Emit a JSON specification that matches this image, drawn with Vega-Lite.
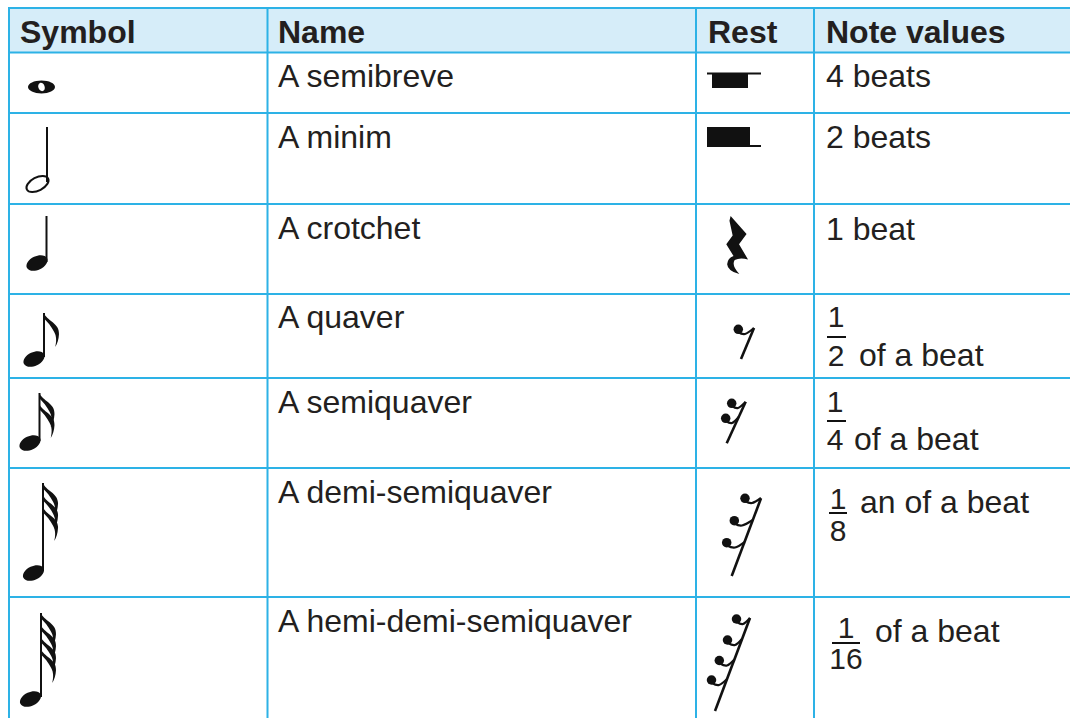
{
  "$schema": "https://vega.github.io/schema/vega-lite/v6.json",
  "width": 1070,
  "height": 718,
  "padding": 0,
  "autosize": {"type": "none"},
  "background": "white",
  "config": {"view": {"stroke": null}, "axis": {"disable": true}},
  "datasets": {
    "headerBg": [{"x": 9, "x2": 1070, "y": 8, "y2": 52.5}],
    "grid": [
      {"x": 8, "x2": 1070, "y": 8, "y2": 8},
      {"x": 8, "x2": 1070, "y": 52.5, "y2": 52.5},
      {"x": 8, "x2": 1070, "y": 113, "y2": 113},
      {"x": 8, "x2": 1070, "y": 204, "y2": 204},
      {"x": 8, "x2": 1070, "y": 294, "y2": 294},
      {"x": 8, "x2": 1070, "y": 378, "y2": 378},
      {"x": 8, "x2": 1070, "y": 468, "y2": 468},
      {"x": 8, "x2": 1070, "y": 597, "y2": 597},
      {"x": 9, "x2": 9, "y": 7, "y2": 718},
      {"x": 267.5, "x2": 267.5, "y": 7, "y2": 718},
      {"x": 696, "x2": 696, "y": 7, "y2": 718},
      {"x": 814, "x2": 814, "y": 7, "y2": 718}
    ],
    "headerText": [
      {"x": 20, "y": 43, "t": "Symbol"},
      {"x": 278, "y": 43, "t": "Name"},
      {"x": 708, "y": 43, "t": "Rest"},
      {"x": 826, "y": 43, "t": "Note values"}
    ],
    "bodyText": [
      {"x": 278, "y": 87, "t": "A semibreve"},
      {"x": 278, "y": 148, "t": "A minim"},
      {"x": 278, "y": 239, "t": "A crotchet"},
      {"x": 278, "y": 328, "t": "A quaver"},
      {"x": 278, "y": 413, "t": "A semiquaver"},
      {"x": 278, "y": 503, "t": "A demi-semiquaver"},
      {"x": 278, "y": 632, "t": "A hemi-demi-semiquaver"},
      {"x": 826, "y": 87, "t": "4 beats"},
      {"x": 826, "y": 148, "t": "2 beats"},
      {"x": 826, "y": 240, "t": "1 beat"},
      {"x": 859, "y": 366, "t": "of a beat"},
      {"x": 854, "y": 450, "t": "of a beat"},
      {"x": 860, "y": 513, "t": "an of a beat"},
      {"x": 875, "y": 642, "t": "of a beat"}
    ],
    "digits": [
      {"x": 836, "y": 327, "t": "1"},
      {"x": 836, "y": 366, "t": "2"},
      {"x": 835, "y": 412, "t": "1"},
      {"x": 835, "y": 450, "t": "4"},
      {"x": 838, "y": 509, "t": "1"},
      {"x": 838, "y": 541, "t": "8"},
      {"x": 846, "y": 638, "t": "1"},
      {"x": 846, "y": 669, "t": "16"}
    ],
    "thinStrokes": [
      {"x": 827, "x2": 846, "y": 337, "y2": 337},
      {"x": 827, "x2": 846, "y": 421, "y2": 421},
      {"x": 829, "x2": 847, "y": 513, "y2": 513},
      {"x": 832, "x2": 860, "y": 643, "y2": 643},
      {"x": 707, "x2": 761, "y": 73.5, "y2": 73.5},
      {"x": 707, "x2": 761, "y": 146, "y2": 146},
      {"x": 47, "x2": 47, "y": 127, "y2": 182},
      {"x": 46.5, "x2": 46.5, "y": 216, "y2": 262},
      {"x": 44, "x2": 44, "y": 313, "y2": 357},
      {"x": 39.5, "x2": 39.5, "y": 393, "y2": 441},
      {"x": 43, "x2": 43, "y": 483, "y2": 571},
      {"x": 41, "x2": 41, "y": 613, "y2": 697}
    ],
    "restStems": [
      {"x": 754, "x2": 741, "y": 328, "y2": 359},
      {"x": 745.7, "x2": 726.7, "y": 401.7, "y2": 443.3},
      {"x": 761, "x2": 731.7, "y": 498.3, "y2": 576},
      {"x": 750, "x2": 715, "y": 618, "y2": 711}
    ],
    "restBlocks": [
      {"x": 712, "x2": 748, "y": 73, "y2": 88},
      {"x": 707, "x2": 750, "y": 127, "y2": 146}
    ],
    "restDots": [
      {"x": 738.3, "y": 329.3},
      {"x": 731.7, "y": 403.3},
      {"x": 725.7, "y": 418.3},
      {"x": 745, "y": 498.3},
      {"x": 734.3, "y": 520.7},
      {"x": 726.7, "y": 542.7},
      {"x": 736.5, "y": 619},
      {"x": 727.5, "y": 640},
      {"x": 719.3, "y": 660.5},
      {"x": 711.5, "y": 680}
    ],
    "hooks": [
      {"g": "a1", "x": 738, "y": 332}, {"g": "a1", "x": 745, "y": 334}, {"g": "a1", "x": 754, "y": 328},
      {"g": "b1", "x": 732, "y": 406}, {"g": "b1", "x": 738, "y": 408}, {"g": "b1", "x": 745.5, "y": 402},
      {"g": "b2", "x": 726, "y": 421}, {"g": "b2", "x": 732, "y": 423}, {"g": "b2", "x": 738.7, "y": 417},
      {"g": "c1", "x": 745, "y": 501}, {"g": "c1", "x": 752, "y": 503}, {"g": "c1", "x": 761, "y": 498},
      {"g": "c2", "x": 734.5, "y": 523.5}, {"g": "c2", "x": 742, "y": 525.5}, {"g": "c2", "x": 752.8, "y": 520},
      {"g": "c3", "x": 727, "y": 545.5}, {"g": "c3", "x": 735, "y": 547.5}, {"g": "c3", "x": 744.5, "y": 542},
      {"g": "d1", "x": 737, "y": 622}, {"g": "d1", "x": 743, "y": 624}, {"g": "d1", "x": 750, "y": 618},
      {"g": "d2", "x": 728, "y": 643}, {"g": "d2", "x": 735, "y": 645}, {"g": "d2", "x": 742, "y": 639},
      {"g": "d3", "x": 720, "y": 663.5}, {"g": "d3", "x": 727, "y": 665.5}, {"g": "d3", "x": 734.4, "y": 659.5},
      {"g": "d4", "x": 712, "y": 683}, {"g": "d4", "x": 719, "y": 685}, {"g": "d4", "x": 727.1, "y": 679}
    ],
    "quarterRest": [{"x": 737, "y": 245}],
    "wholeNote": [{"x": 41.5, "y": 87}],
    "halfHead": [{"x": 37.5, "y": 184}],
    "filledHeads": [
      {"x": 37, "y": 263},
      {"x": 34, "y": 359},
      {"x": 30, "y": 443},
      {"x": 33.5, "y": 573},
      {"x": 30.5, "y": 699}
    ],
    "flags": [
      {"x": 51.5, "y": 330},
      {"x": 47, "y": 410},
      {"x": 47, "y": 421},
      {"x": 50.5, "y": 500},
      {"x": 50.5, "y": 512},
      {"x": 50.5, "y": 524},
      {"x": 48.5, "y": 630},
      {"x": 48.5, "y": 642},
      {"x": 48.5, "y": 654},
      {"x": 48.5, "y": 666}
    ]
  },
  "encoding": {
    "x": {"field": "x", "type": "quantitative", "scale": {"domain": [0, 1070], "nice": false, "zero": false}, "axis": null},
    "y": {"field": "y", "type": "quantitative", "scale": {"domain": [0, 718], "reverse": true, "nice": false, "zero": false}, "axis": null}
  },
  "layer": [
    {
      "data": {"name": "headerBg"},
      "mark": {"type": "rect", "color": "#d6edf9"},
      "encoding": {"x2": {"field": "x2"}, "y2": {"field": "y2"}}
    },
    {
      "data": {"name": "grid"},
      "mark": {"type": "rule", "color": "#2db2e6", "strokeWidth": 2},
      "encoding": {"x2": {"field": "x2"}, "y2": {"field": "y2"}}
    },
    {
      "data": {"name": "headerText"},
      "mark": {"type": "text", "align": "left", "baseline": "alphabetic", "font": "Liberation Sans", "fontWeight": "bold", "fontSize": 32, "color": "#231f20"},
      "encoding": {"text": {"field": "t"}}
    },
    {
      "data": {"name": "bodyText"},
      "mark": {"type": "text", "align": "left", "baseline": "alphabetic", "font": "Liberation Sans", "fontSize": 32, "color": "#231f20"},
      "encoding": {"text": {"field": "t"}}
    },
    {
      "data": {"name": "digits"},
      "mark": {"type": "text", "align": "center", "baseline": "alphabetic", "font": "Liberation Sans", "fontSize": 30, "color": "#231f20"},
      "encoding": {"text": {"field": "t"}}
    },
    {
      "data": {"name": "thinStrokes"},
      "mark": {"type": "rule", "color": "#111111", "strokeWidth": 2},
      "encoding": {"x2": {"field": "x2"}, "y2": {"field": "y2"}}
    },
    {
      "data": {"name": "restStems"},
      "mark": {"type": "rule", "color": "#111111", "strokeWidth": 2.6},
      "encoding": {"x2": {"field": "x2"}, "y2": {"field": "y2"}}
    },
    {
      "data": {"name": "restBlocks"},
      "mark": {"type": "rect", "color": "#111111"},
      "encoding": {"x2": {"field": "x2"}, "y2": {"field": "y2"}}
    },
    {
      "data": {"name": "hooks"},
      "mark": {"type": "line", "color": "#111111", "strokeWidth": 2.2, "interpolate": "natural"},
      "encoding": {"detail": {"field": "g", "type": "nominal"}}
    },
    {
      "data": {"name": "restDots"},
      "mark": {"type": "point", "shape": "circle", "filled": true, "color": "#111111", "opacity": 1, "size": 90, "strokeWidth": 0}
    },
    {
      "data": {"name": "quarterRest"},
      "mark": {"type": "point", "shape": "M-0.22,-1L0.33,-0.38L0.07,-0.03L0.38,0.5Q0.1,0.42,-0.08,0.52Q-0.2,0.7,0.08,1Q-0.32,0.9,-0.34,0.66Q-0.32,0.45,-0.12,0.38L-0.37,-0.03L-0.15,-0.33L-0.26,-0.84Z", "filled": true, "color": "#111111", "opacity": 1, "size": 3364, "strokeWidth": 0}
    },
    {
      "data": {"name": "wholeNote"},
      "mark": {"type": "point", "shape": "M-1,0C-1,-0.265,-0.552,-0.48,0,-0.48C0.552,-0.48,1,-0.265,1,0C1,0.265,0.552,0.48,0,0.48C-0.552,0.48,-1,0.265,-1,0Z", "filled": true, "color": "#111111", "opacity": 1, "size": 729, "strokeWidth": 0}
    },
    {
      "data": {"name": "wholeNote"},
      "mark": {"type": "point", "shape": "M-1,0C-1,-0.414,-0.552,-0.75,0,-0.75C0.552,-0.75,1,-0.414,1,0C1,0.414,0.552,0.75,0,0.75C-0.552,0.75,-1,0.414,-1,0Z", "filled": true, "color": "white", "opacity": 1, "size": 72, "angle": 70, "strokeWidth": 0}
    },
    {
      "data": {"name": "halfHead"},
      "mark": {"type": "point", "shape": "M-1,0C-1,-0.304,-0.552,-0.55,0,-0.55C0.552,-0.55,1,-0.304,1,0C1,0.304,0.552,0.55,0,0.55C-0.552,0.55,-1,0.304,-1,0Z", "filled": false, "color": "#111111", "opacity": 1, "size": 576, "angle": -28, "strokeWidth": 2}
    },
    {
      "data": {"name": "filledHeads"},
      "mark": {"type": "point", "shape": "M-1,0C-1,-0.342,-0.552,-0.62,0,-0.62C0.552,-0.62,1,-0.342,1,0C1,0.342,0.552,0.62,0,0.62C-0.552,0.62,-1,0.342,-1,0Z", "filled": true, "color": "#111111", "opacity": 1, "size": 500, "angle": -25, "strokeWidth": 0}
    },
    {
      "data": {"name": "flags"},
      "mark": {"type": "point", "shape": "M-0.44,-1C-0.3,-0.55,0.5,-0.4,0.44,0.25C0.42,0.55,0.35,0.8,0.22,1C0.3,0.65,0.3,0.35,0.15,0.1C0,-0.2,-0.25,-0.5,-0.44,-0.68Z", "filled": true, "color": "#111111", "opacity": 1, "size": 1156, "strokeWidth": 0}
    }
  ]
}
